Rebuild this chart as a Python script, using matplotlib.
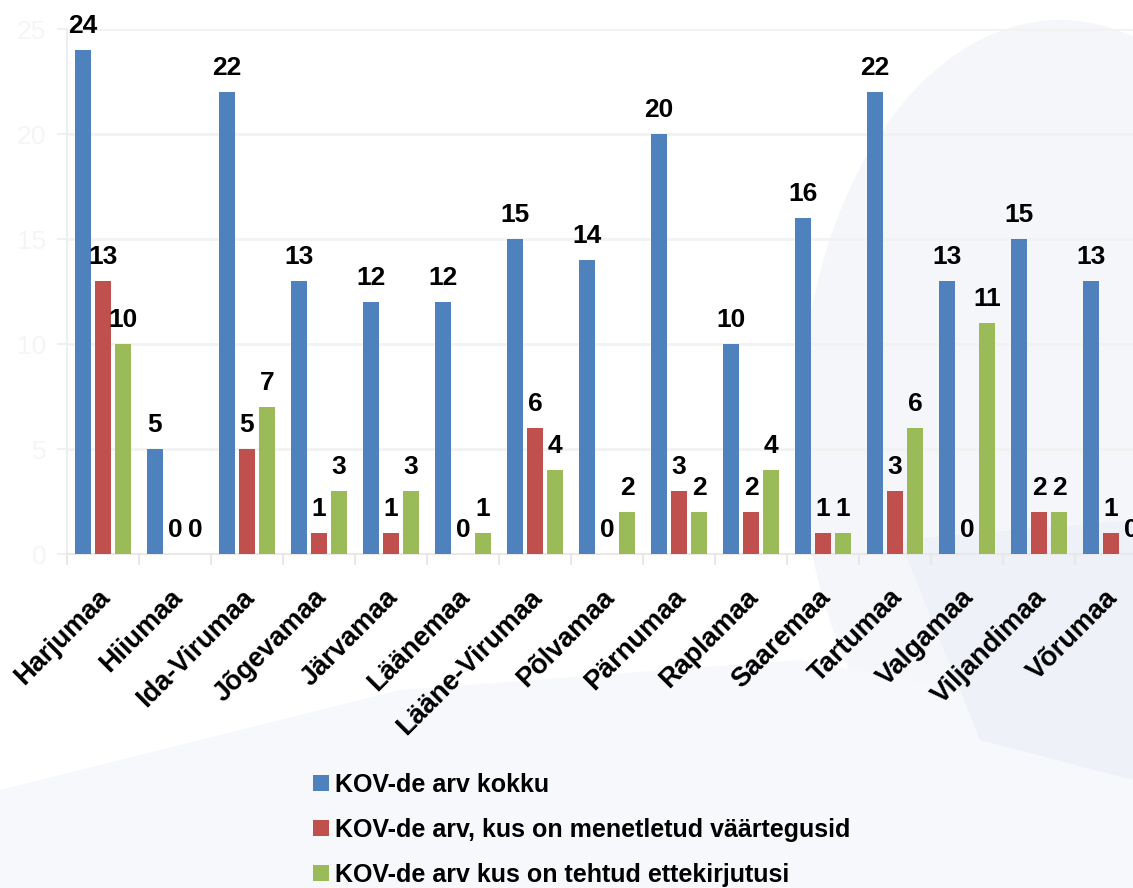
import matplotlib
matplotlib.use("Agg")
import matplotlib.pyplot as plt
from matplotlib.patches import Patch, Ellipse, Polygon
import matplotlib.transforms as mtransforms
import numpy as np

plt.rcParams['font.family'] = ['Liberation Sans', 'DejaVu Sans']

categories = ["Harjumaa", "Hiiumaa", "Ida-Virumaa", "Jõgevamaa", "Järvamaa", "Läänemaa",
              "Lääne-Virumaa", "Põlvamaa", "Pärnumaa", "Raplamaa", "Saaremaa", "Tartumaa",
              "Valgamaa", "Viljandimaa", "Võrumaa"]
kov_kokku = [24, 5, 22, 13, 12, 12, 15, 14, 20, 10, 16, 22, 13, 15, 13]
kov_vaartegu = [13, 0, 5, 1, 1, 0, 6, 0, 3, 2, 1, 3, 0, 2, 1]
kov_ettekirj = [10, 0, 7, 3, 3, 1, 4, 2, 2, 4, 1, 6, 11, 2, 0]
series_names = ["KOV-de arv kokku",
                "KOV-de arv, kus on menetletud väärtegusid",
                "KOV-de arv kus on tehtud ettekirjutusi"]
colors = ["#4F81BD", "#C0504D", "#9BBB59"]
yticks = [0, 5, 10, 15, 20, 25]

W, H = 1133, 888
fig = plt.figure(figsize=(W / 100, H / 100), dpi=100)

# faint background watermark
bg = fig.add_axes([0, 0, 1, 1], zorder=-10)
bg.set_xlim(0, W)
bg.set_ylim(H, 0)
bg.axis('off')
bg.add_patch(Ellipse((1060, 430), 520, 820, color='#f4f6fa', lw=0))
bg.add_patch(Polygon([[0, 888], [0, 790], [400, 690], [800, 660], [1133, 720], [1133, 888]],
                     closed=True, color='#f7f8fb', lw=0))
bg.add_patch(Polygon([[900, 540], [1133, 520], [1133, 780], [980, 740]],
                     closed=True, color='#eef1f7', lw=0))

ax = fig.add_axes([67 / W, (H - 554) / H, 1080 / W, (554 - 29) / H])
ax.patch.set_alpha(0)

x = np.arange(len(categories))
bw = 16 / 72
step = 20 / 72
all_series = [kov_kokku, kov_vaartegu, kov_ettekirj]
for k, (vals, col) in enumerate(zip(all_series, colors)):
    pos = x + (k - 1) * step
    ax.bar(pos, vals, width=bw, color=col, zorder=3, label=series_names[k])
    for px, v in zip(pos, vals):
        ax.annotate(str(v), (px, v), xytext=(0, 12.5), textcoords='offset points',
                    ha='center', va='baseline', fontsize=19, fontweight='bold',
                    color='black', annotation_clip=False, zorder=5)

ax.set_xlim(-0.5, len(categories) - 0.5)
ax.set_ylim(0, 25)
ax.set_yticks(yticks)
ax.set_yticklabels([str(t) for t in yticks], color='#f5f5f5', fontsize=19)
ax.yaxis.grid(True, color='#f2f2f2', linewidth=2, zorder=0)
ax.set_axisbelow(True)

ax.set_xticks(x)
ax.set_xticklabels(categories, rotation=45, ha='right', va='top',
                   rotation_mode='anchor', fontsize=19.5, fontweight='bold')
ax.tick_params(axis='x', which='major', length=0, pad=22)
offset = mtransforms.ScaledTranslation(-6 / 100, 0, fig.dpi_scale_trans)
for lbl in ax.get_xticklabels():
    lbl.set_transform(lbl.get_transform() + offset)
ax.set_xticks(np.arange(-0.5, len(categories), 1), minor=True)
ax.tick_params(axis='x', which='minor', length=8, width=1.5, color='#e8e8e8', direction='out')
ax.tick_params(axis='y', length=7, width=1.5, color='#f0f0f0', pad=8)

for s in ['top', 'right']:
    ax.spines[s].set_visible(False)
ax.spines['left'].set_color('#eeeeee')
ax.spines['left'].set_linewidth(1.5)
ax.spines['bottom'].set_color('#e8e8e8')
ax.spines['bottom'].set_linewidth(1.5)

handles = [Patch(facecolor=c, edgecolor='none') for c in colors]
fig.legend(handles, series_names, loc='upper left',
           bbox_to_anchor=(313 / W, (H - 773) / H), frameon=False,
           prop={'size': 18, 'weight': 'bold'}, handlelength=0.62, handleheight=0.62,
           handletextpad=0.25, labelspacing=0.83, borderpad=0, borderaxespad=0)

fig.savefig("out.png", dpi=100)
